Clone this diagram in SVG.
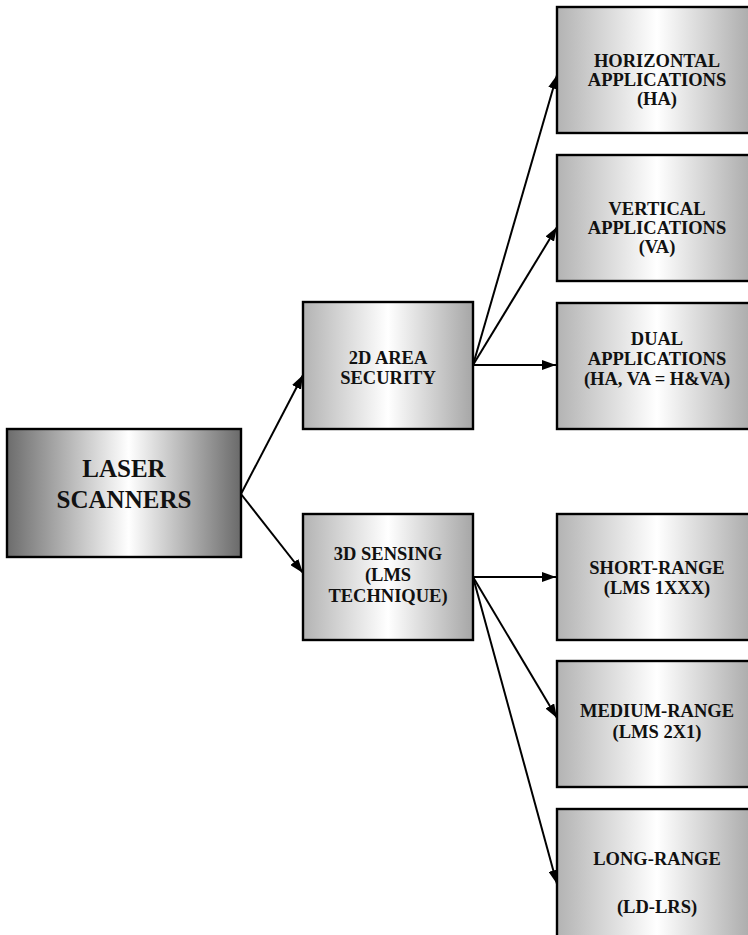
<svg xmlns="http://www.w3.org/2000/svg" width="748" height="935" viewBox="0 0 748 935">
<style>
.box{stroke:#000;stroke-width:2.4}
.t{font-family:"Liberation Serif","Times New Roman",serif;font-weight:bold;font-size:18.5px;fill:#111;text-anchor:middle}
.big{font-size:25px}
.c{stroke:#000;stroke-width:2;fill:none;marker-end:url(#ah)}
</style>
<defs>
<linearGradient id="gDark" x1="0" y1="0" x2="1" y2="0">
<stop offset="0" stop-color="#6c6c6c"/>
<stop offset="0.52" stop-color="#ffffff"/>
<stop offset="1" stop-color="#6a6a6a"/>
</linearGradient>
<linearGradient id="gLight" x1="0" y1="0" x2="1" y2="0">
<stop offset="0" stop-color="#b3b3b3"/>
<stop offset="0.5" stop-color="#ffffff"/>
<stop offset="1" stop-color="#a6a6a6"/>
</linearGradient>
<marker id="ah" viewBox="0 0 14 10" refX="14" refY="5" markerWidth="14" markerHeight="10" markerUnits="userSpaceOnUse" orient="auto">
<path d="M0,0 L14,5 L0,10 z" fill="#000"/>
</marker>
</defs>
<g id="connectors">
<line class="c" x1="241" y1="494" x2="303" y2="375"/>
<line class="c" x1="241" y1="494" x2="303" y2="573"/>
<line class="c" x1="473" y1="365" x2="557" y2="75"/>
<line class="c" x1="473" y1="365" x2="557" y2="227"/>
<line class="c" x1="473" y1="365" x2="556" y2="365"/>
<line class="c" x1="473" y1="577" x2="556" y2="577"/>
<line class="c" x1="473" y1="577" x2="557" y2="718"/>
<line class="c" x1="473" y1="577" x2="557" y2="884"/>
</g>
<g id="laser">
<rect class="box" x="7" y="429" width="234" height="128" fill="url(#gDark)"/>
<text class="t big" x="124" y="477">LASER</text>
<text class="t big" x="124" y="508">SCANNERS</text>
</g>
<g id="area2d">
<rect class="box" x="303" y="302" width="170" height="127" fill="url(#gLight)"/>
<text class="t" x="388" y="364">2D AREA</text>
<text class="t" x="388" y="384">SECURITY</text>
</g>
<g id="sensing3d">
<rect class="box" x="303" y="514" width="170" height="126" fill="url(#gLight)"/>
<text class="t" x="388" y="560">3D SENSING</text>
<text class="t" x="388" y="581">(LMS</text>
<text class="t" x="388" y="602">TECHNIQUE)</text>
</g>
<g id="ha">
<rect class="box" x="557" y="7" width="200" height="126" fill="url(#gLight)"/>
<text class="t" x="657" y="67">HORIZONTAL</text>
<text class="t" x="657" y="86">APPLICATIONS</text>
<text class="t" x="657" y="105">(HA)</text>
</g>
<g id="va">
<rect class="box" x="557" y="155" width="200" height="126" fill="url(#gLight)"/>
<text class="t" x="657" y="215">VERTICAL</text>
<text class="t" x="657" y="234">APPLICATIONS</text>
<text class="t" x="657" y="253">(VA)</text>
</g>
<g id="dual">
<rect class="box" x="557" y="303" width="200" height="126" fill="url(#gLight)"/>
<text class="t" x="657" y="345">DUAL</text>
<text class="t" x="657" y="365">APPLICATIONS</text>
<text class="t" x="657" y="385">(HA, VA = H&amp;VA)</text>
</g>
<g id="short">
<rect class="box" x="557" y="514" width="200" height="126" fill="url(#gLight)"/>
<text class="t" x="657" y="574">SHORT-RANGE</text>
<text class="t" x="657" y="594">(LMS 1XXX)</text>
</g>
<g id="medium">
<rect class="box" x="557" y="661" width="200" height="126" fill="url(#gLight)"/>
<text class="t" x="657" y="717">MEDIUM-RANGE</text>
<text class="t" x="657" y="738">(LMS 2X1)</text>
</g>
<g id="long">
<rect class="box" x="557" y="809" width="200" height="140" fill="url(#gLight)"/>
<text class="t" x="657" y="865">LONG-RANGE</text>
<text class="t" x="657" y="913">(LD-LRS)</text>
</g>
</svg>
